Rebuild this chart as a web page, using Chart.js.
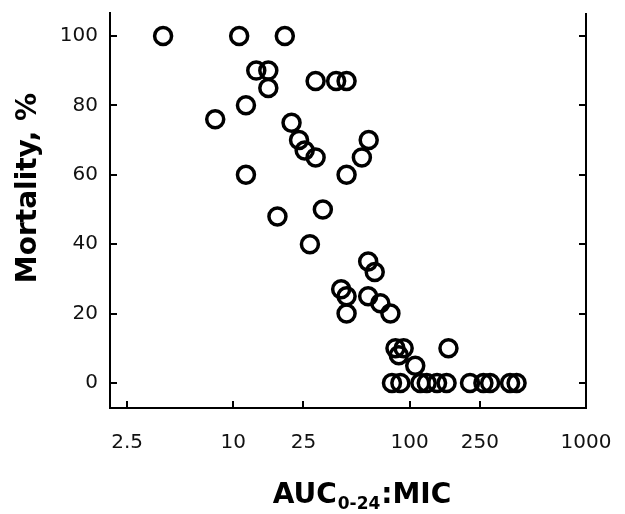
<!DOCTYPE html>
<html>
<head>
<meta charset="utf-8">
<title>Mortality vs AUC:MIC</title>
<script src="https://cdn.jsdelivr.net/npm/chart.js@4/dist/chart.umd.min.js"></script>
<style>
    html, body { margin: 0; padding: 0; background: #ffffff; }
    .chart-wrap { position: relative; width: 625px; height: 514px; }
</style>
</head>
<body>
<div class="chart-wrap">
    <canvas id="mortalityChart"></canvas>
</div>
<script>
// Datos (AUC0-24:MIC vs mortalidad %)
const aucValues = [
    4, 10.8, 19.6,
    13.5, 15.8, 15.8,
    29.3, 38.3, 43.9,
    11.8, 7.9, 21.4, 23.6, 25.4, 29.3,
    11.8, 43.9, 53.6, 58.6,
    17.8, 32.2, 27.2,
    58.2, 63.4, 40.9, 43.9, 43.9, 58.2, 68.2, 77.8,
    83.1, 92.5, 86.8, 107.6, 166,
    79.4, 88.6, 115, 125, 143, 162, 220, 262, 286, 371, 404
];
const mortalityValues = [
    100, 100, 100,
    90, 90, 85,
    87, 87, 87,
    80, 76, 75, 70, 67, 65,
    60, 60, 65, 70,
    48, 50, 40,
    35, 32, 27, 25, 20, 25, 23, 20,
    10, 10, 8, 5, 10,
    0, 0, 0, 0, 0, 0, 0, 0, 0, 0, 0
];

const xTickValues = [2.5, 10, 25, 100, 250, 1000];
const xTickLabels = ['2.5', '10', '25', '100', '250', '1000'];
const yTickValues = [0, 20, 40, 60, 80, 100];

const tickFont = { family: 'DejaVu Sans', size: 20 };
const titleFamily = 'DejaVu Sans';

// Ticks hacia dentro, eje derecho y títulos de ejes
const axisDecorPlugin = {
    id: 'axisDecor',
    afterDraw(chart) {
        const { ctx, chartArea, scales } = chart;
        const len = 7;
        ctx.save();
        ctx.strokeStyle = '#000';
        ctx.lineWidth = 2;

        // eje derecho
        ctx.beginPath();
        ctx.moveTo(chartArea.right, chartArea.top);
        ctx.lineTo(chartArea.right, chartArea.bottom + 1);
        ctx.stroke();

        ctx.beginPath();
        yTickValues.forEach(v => {
            const y = Math.round(scales.y.getPixelForValue(v));
            ctx.moveTo(chartArea.left, y);
            ctx.lineTo(chartArea.left + len, y);
            ctx.moveTo(chartArea.right, y);
            ctx.lineTo(chartArea.right - len, y);
        });
        xTickValues.forEach(v => {
            const x = Math.round(scales.x.getPixelForValue(v));
            if (x >= chartArea.right - 1) return;
            ctx.moveTo(x, chartArea.bottom);
            ctx.lineTo(x, chartArea.bottom - len);
        });
        ctx.stroke();

        // título eje Y
        ctx.fillStyle = '#000';
        ctx.font = 'bold 28px ' + titleFamily;
        ctx.textAlign = 'center';
        ctx.textBaseline = 'middle';
        ctx.translate(29, 188);
        ctx.rotate(-Math.PI / 2);
        ctx.fillText('Mortality, %', 0, 0);
        ctx.setTransform(1, 0, 0, 1, 0, 0);

        // título eje X con subíndice
        const big = 'bold 28px ' + titleFamily;
        const small = 'bold 17px ' + titleFamily;
        ctx.textAlign = 'left';
        ctx.textBaseline = 'alphabetic';
        ctx.font = big;
        const w1 = ctx.measureText('AUC').width;
        const w3 = ctx.measureText(':MIC').width;
        ctx.font = small;
        const w2 = ctx.measureText('0-24').width;
        const total = w1 + w2 + w3 + 2;
        let x = 362 - total / 2;
        const base = 503;
        ctx.font = big;
        ctx.fillText('AUC', x, base);
        x += w1 + 1;
        ctx.font = small;
        ctx.fillText('0-24', x, base + 6);
        x += w2 + 1;
        ctx.font = big;
        ctx.fillText(':MIC', x, base);
        ctx.restore();
    }
};

document.addEventListener('DOMContentLoaded', () => {
    const ctx = document.getElementById('mortalityChart').getContext('2d');
    const points = aucValues.map((v, i) => ({ x: v, y: mortalityValues[i] }));

    window.mortalityChart = new Chart(ctx, {
        type: 'scatter',
        data: {
            datasets: [{
                label: 'Mortality',
                data: points,
                pointStyle: 'circle',
                pointRadius: 8.5,
                pointHoverRadius: 8.5,
                borderWidth: 3.5,
                pointBorderWidth: 3.5,
                borderColor: '#000000',
                backgroundColor: 'rgba(0,0,0,0)'
            }]
        },
        options: {
            responsive: true,
            maintainAspectRatio: false,
            animation: false,
            layout: {
                padding: { top: 13, right: 39, left: 0, bottom: 0 }
            },
            plugins: {
                legend: { display: false },
                tooltip: { enabled: false }
            },
            scales: {
                x: {
                    type: 'logarithmic',
                    min: 2,
                    max: 1000,
                    afterBuildTicks: (scale) => {
                        scale.ticks = xTickValues.map(v => ({ value: v }));
                    },
                    afterFit: (scale) => {
                        scale.height = 106;
                        scale.paddingLeft = 0;
                        scale.paddingRight = 0;
                    },
                    grid: { display: false, drawTicks: false },
                    border: { display: true, color: '#000', width: 2 },
                    ticks: {
                        color: '#111',
                        font: tickFont,
                        padding: 23,
                        autoSkip: false,
                        maxRotation: 0,
                        callback: function(value) {
                            const i = xTickValues.indexOf(value);
                            return i >= 0 ? xTickLabels[i] : '';
                        }
                    }
                },
                y: {
                    type: 'linear',
                    min: -7.2,
                    max: 106.6,
                    afterBuildTicks: (scale) => {
                        scale.ticks = yTickValues.map(v => ({ value: v }));
                    },
                    afterFit: (scale) => {
                        scale.width = 110;
                        scale.paddingTop = 0;
                        scale.paddingBottom = 0;
                    },
                    grid: { display: false, drawTicks: false },
                    border: { display: true, color: '#000', width: 2 },
                    ticks: {
                        color: '#111',
                        font: tickFont,
                        padding: 12
                    }
                }
            }
        },
        plugins: [axisDecorPlugin]
    });
});
</script>
</body>
</html>
